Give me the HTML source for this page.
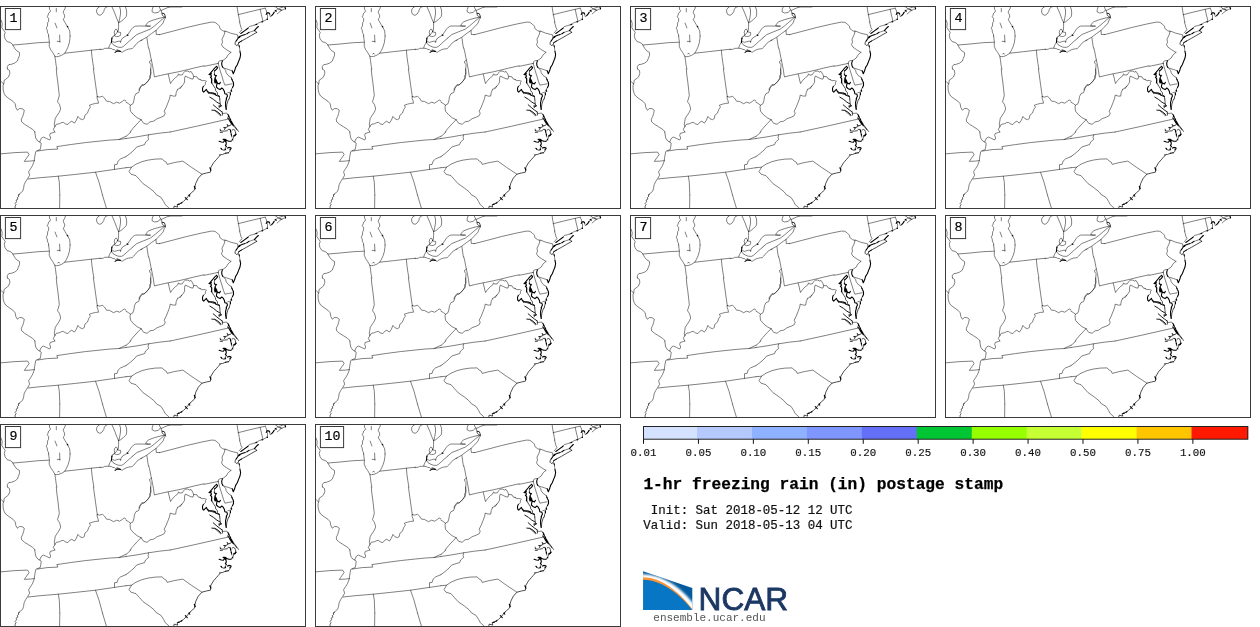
<!DOCTYPE html>
<html><head><meta charset="utf-8"><title>1-hr freezing rain postage stamp</title>
<style>
html,body{margin:0;padding:0;background:#fff;}
body{width:1260px;height:627px;overflow:hidden;font-family:"Liberation Mono",monospace;}
svg{display:block;}
text{font-family:"Liberation Mono",monospace;}
svg{opacity:0.999;}
</style></head><body>
<svg width="1260" height="627" viewBox="0 0 1260 627">
<defs>
<clipPath id="cp"><rect x="0.5" y="6.5" width="305" height="202"/></clipPath>
<g id="map" fill="none" stroke="#000" stroke-linejoin="round" stroke-linecap="round">
<path stroke-width="0.5" d="M0,18.9 1.2,20.1 2.2,23.6 1.8,27.6 3.5,30.1 5.2,32.3 4.3,35.3 5,38.7 7.2,41.7 10,42.4 11.9,43.7 12.9,45 14.6,48.2 16.6,50.7 19.4,52.4 19.6,55.2 18.4,58.2 17.3,61.1 14.6,63.1 11.3,64.3 8.8,64.6 7.2,66.8 7.5,69M12.9,45 25.1,44 38.2,42.7 49.2,42.2M48.6,35.9 49,39.2 49.4,42.2 49.2,46.2 50.7,49.7 52.8,52.7 54.8,56.2 56.3,56.7 58.8,56.4 61.8,55.2 64.8,53.2 66.5,50.2 68.1,46.7 69.3,42.7 69.9,38.7 70.1,35.9M49.3,6.5 49.6,9.3 50.5,10.8 50,12 48.6,13.2 48.1,15.1 47.2,16.8 48.6,18.4 48.6,21.3 47.7,22.7 47.4,26.1 46.2,28.2 47.2,29.9 47.4,32.3 48.6,34.7 48.6,36M65.6,6.5 64.9,8.9 63.7,10.8 63.2,12.2 63.9,13.9 64.6,15.1 64.6,17.5 63.4,18.9 63.4,19.9 64.9,22.3 66.1,24.4 67.5,26.6 68.7,29 69.7,30.9 69.9,33.8 70.1,36M56.3,8.5 56.3,11.8M55.1,23.1 56.9,27.9M59.6,35.1 59.9,42.2M57.3,41.4 59.9,41.4M57.9,54 58.6,53 59.3,54M54.8,56.2 55.5,60.3 56.1,65.3 56.9,69M64.8,53.2 78.4,51.7 91.4,50.2 100.5,49.2M91.4,50.2 91.9,56.2 92.9,63.3 93.9,69M100,6.5 98,7.7 96.7,9.7 96.6,12 97.7,14.4 100,15.4 102.1,14 103.7,11.7 104.4,9.3 105.7,7.3 108.1,6.5M111.8,6.5 113.4,10 115.1,14 116.8,18.7 118.5,22.4M119.5,6.5 120.5,10 120.5,14 119.8,18.1 118.8,22.4M125.2,6.5 126.5,10 126.7,14 126.2,16.7 123.5,19.4 120.8,21.7 118.8,22.4M122.8,38 123.5,37.5 127.5,35.1 129.5,32.1 131.5,29.1 133.5,27.1 135.6,26.1 139.6,26 144.9,26.1 148.3,26.4 150.6,26.1 145.6,25.6 146.9,23.4 148.9,21.7 154.3,19.7 159,18.4 163,17.4 165,17.1M132.7,38 136.9,34.5 143.6,31.8 150.3,29.1 154.3,26.1 158.3,22.7 163,18.7 165,17.1M140.9,40.5 146.9,37.1 151.6,33.5 156,30.4 159.7,26.8 163,23.1 164.4,19.4 165.4,17.7M159.1,6.5 160.1,8.9 161.3,10.8 161.5,12.2 162.2,13.4M165.1,17 165.6,18M153.3,6.5 152.3,9.3 152,11.7 154.6,13 158.3,12.4 160.3,10M161,10.6 165,8.7 169,7 170.4,6.5M156,30.4 156.3,34.5 159.7,34.5M118.6,22.5 118.6,26.7 118.4,30 117.6,31.7M117.6,31.7 117.1,29.7 115.9,29 114.7,30.4 114.2,32.7 115.1,34.7M117.6,31.7 116.4,33.4 115.1,34.7M117.6,31.7 118.7,32.2 120.6,32.4 120.7,34.1 120.4,35.4 118.4,36.4 116.4,36.6 114.4,35.7M111.4,42.4 112.7,41.7 114.7,42.4 116.7,41.7 118.8,41.2 120.4,41.3 120.6,42.5 121.1,40.3 122.1,38.7 122.8,38M111.4,42.4 113.1,44.7 115.1,45.9 118.1,47.2 121.4,47.4 123.4,46.4 126.1,44 129.1,41.2 132.2,38.7 132.7,38M111.4,42.4 110.4,43.9 109.4,45.7 108.7,48M100,49.6 103.3,49.2 104.4,48.4 108.7,48.2 111.4,48.6 112.7,49.4 114.4,49.6 115.7,50.7 117.4,49.6 118.8,50.4 120.4,51.4M120.4,51.4 122.1,52.4 123.4,51.4 126.1,49.9 128.5,49.1 130.1,48.9 132.2,48.6 133.8,47 135.5,45 136.8,43.4 138.9,41.7 140.9,40.5 142,40.2M7.5,69 9.5,70.5 9.8,73.5 8.5,77 6,79 4.2,80.3 3.8,83.6 3,85.6 3.2,90.1 4.2,93.6 5.5,95.9 9,98.6 13.1,101.4 15.1,103.7 15.9,107.7 17.3,110.2 19.6,108.5 22.1,108.7 24.3,110.2 23.6,113.7 22.6,116.7 21.3,119.2 21.6,121.8 24.6,124.3 28.6,126.8 32.2,129.1 34.7,131.3 35,132M0,80.3 2,82.6 3.8,84.1M56.3,69 56.8,75 57.8,82.1 58.6,89.1 59.3,95.6 58.3,99.1 57.5,101.7 59.3,104.2 60.3,107.2 60.6,109.2 59.3,112.2 57.3,115.2 55.3,118.2 54.8,121.2 54.3,124.3 54.8,126.8 53.3,129.3 54.8,132M54.8,126.8 56.3,124.3 59.3,123.8 61.3,122.8 63.3,122.3 65.3,123.8 67.8,124.6 69.8,122.3 71.8,121.2 74.4,123.1 76.4,120.2 77.9,116.4 79.9,118.7 82.4,119.7 84.2,118.7 84.9,115.2 87.4,113.2 88.9,109.2 90.4,107.2 89.4,105.2 92.4,104.2 95.5,103.4 98.5,103.2 98,100.7 97,98.1 97.3,96.6M93.4,69 94.4,76 95.5,84.1 96.5,91.1 97.3,96.6M97.3,96.6 99.5,97.1 102.5,96.3 104.5,98.1 106.5,101.2 109.5,101.4 113.5,103.7 116.6,102.2 119.6,103.2 122.6,101.2 124.1,99.9 126,101M34.7,132 35.2,135 35.7,138 37.7,141 39.7,142 41.2,143.1 40.7,147.1 40.2,149.6 37.2,150.6 35.7,151.6 34.7,157.1 34.2,161.1 32.7,165.2 30.6,168.7 28.6,171.7 29.6,175.2 27.6,178.7 25.6,181.7 24.1,184.8 23.6,188.3 22.6,191.3 19.6,193.8 18.6,195M39.7,142 41.2,138.5 43.2,137 46.7,138.5 49.7,140 50.7,138 49.7,135.5 50.2,133.5 53.3,132.5 54.8,132M37.2,151.1 47.2,149.6 57.8,149.1 56.8,146.6 60.3,146.1 70.3,144.6 85.4,142.6 100.5,141 110.5,140 119.1,139.5 126,138.5M119.1,139.5 126,136.2M0,153.9 15.1,152.6 27.6,152.1 29.1,154.6 26.6,158.1 24.3,161.4 30.1,161.1 34.4,160.6M28.1,179 40.2,177.7 58.3,176.2 75.4,174.4 95.5,172.2 114.5,169.4 126,167.7M58.3,176.2 59.3,182.2 59.8,195M95.5,172.2 99,182.2 102.5,195M114.5,169.4 114.5,164.7 117.1,164.4 118.1,161.1 120.6,158.9 126,156.6M59.8,195.1 59.6,208.4M102.5,195.1 106.5,208.4M159.7,34.6 171.2,31.6 186.3,27.6 201.4,24.1 211.4,22.1 214.9,22.3 217.4,24.1 219.4,26.1 219.9,28.6 222.5,30.6 225,31.6M225,31.6 224,35.1 222,39.2 222.5,42.2 221.5,44.7 223,47.2 226.5,49.7 231,52.4M237,6 237.7,11 238.5,15 239.3,19.6 239.9,22.1M146.9,37.7 148.1,46.2 148.5,48M238.1,14.7 248.8,12 260.2,9.3 265.5,8.1M260.2,9.3 261.2,14 262.2,18.1 262.9,21.4M239.4,22 240.3,24.9 241,27.7 242,29.4 240.8,31.1 239.1,32.8M225,30.9 230.7,33.2 237.7,34.9 237.8,37.8M248,28.2 249.4,26.5 252.8,25.6 256.1,24.4M245.1,34.5 247,33.7M248.9,32.4 250.8,31.8 254.4,30.6M239.4,46.9 239.7,49.3 239.9,51.2M265.3,8.5 266.5,11 267,13.9M267.5,14.8 267.5,19.1M267.5,19.1 262.2,21.8 259.3,22.5 256.4,24.4 255,25.1M269.6,13.9 270.3,16.7 271.7,15.6M274.1,12.4 275.8,10.8M275.8,10.8 277.5,9.1 280.4,7.9 283.7,6.9 285.4,6.7M285.6,8.9 283.7,9.3 281.3,10.5 278.9,12.4 277.2,13.9M276.1,6.6 277.2,8.4 278.9,9.6 280.8,9.8M230.9,52.4 228.2,54.7 226.2,58 222.9,60.4 220.2,60.7 218.5,61.7 218.2,63.7M204,66.3 206.8,65.8 218.2,63.4M218.2,63.7 218.9,66.1 220.2,70.8 221.9,76.1 223.5,81.5 224.9,85.2 228.2,84.5 232.2,83.8M222.9,67.4 224.2,68.8 225.6,70.4 226.2,72.8 228.2,75.5 231.2,77.5M223.9,68.1 228.2,69.4 232.2,70.8M148.8,48 149.8,52 150.8,57.4 151.5,60.7 152.5,65.4 153.5,70.8 154.2,76.1 154.8,76.8M151.5,60.1 149.5,61.4 149.8,63.1 151.1,64.7 150.8,68.1 150.5,71.4 150.5,74.5 149.5,76.1 150.1,78.1 148.1,80.8 145.8,83.5 143.8,85.2 142.1,84.5 140.8,86.2 139.4,88.2 139.1,90M154.8,76.8 160.2,75.5 168.2,73.8 178.3,71.8 187,69.8 193.7,68.1 204,65.8M168.2,74.1 169.2,78.1 169.9,81.5 170.6,83.2M170.6,83.2 172.9,80.2 175.6,77.5 177.6,76.1 178.6,73.8 179.6,75.1 182.3,74.8 183.6,72.8 185.3,71.1 187.7,71.1 189.7,72.1 191,71.4 192.7,74.1 193.7,76.5 197,76.8 198,78.8 200.4,79.8M193.7,76.5 193,79.1 191,78.8 188.3,77.5 185.3,76.1 184.6,78.1 184.6,82.2 183,84.8 180.3,87.5 177.9,89.5M200,79.3 202,80.7 204.4,80.5 206.5,81.3 205.4,82.4 205.4,84.4 204.4,85.7 203.3,86.4M227.8,92.7 230.3,92.1M222.5,113.5 226.9,113.1 227.9,114.5M180,88.7 182,86M126,138.5 136,137 148.6,134.8 159.2,133.2 170.2,132M126,136.5 131,132M148.6,134.8 148.1,137.5 148.6,139.5 145.6,142 144.6,144.6 141.1,145.6 136.6,147.1 134,150.1 130,153.6 126,156.6M126,167.7 131.5,167.2 136,164.2 142.1,161.6 148.1,160.1 155.1,159.1 162.2,158.9 164.2,161.1 166.2,162.1 167.2,164.4 174.2,162.6 182.8,161.1 191.3,167.2 201.9,174.2M131.5,167.2 129,171.7 131,174.2 136,175.7 139.1,179.2 143.1,183.7 149.1,187.8 154.1,191.8 156.6,195M157.1,195.1 161.2,197.6 163.7,201.6 165.2,204.6 168.7,207.6 169.2,208.4M150.6,69 151.1,73 150.1,78 148.1,81.1 145.1,84.1 142.1,85.6 140.1,88.1 138.6,92.6 136,93.6 134.5,96.6 134,100.1 133,103.7 130.5,105.2 130,106.7 130.5,111.2 133.5,114.7 137.1,117.7 141.1,119.7M126,102.2 128.5,103.7 130.5,105.2M141.1,119.7 137.1,123.8 133,128.3 130,132M141.1,119.7 143.6,123.3 147.1,124.3 150.1,121.8 153.6,121.2 157.1,118.7 161.2,117.2 164.2,115.7 165.2,113.2 164.2,111.2 166.2,107.2 168.2,102.2 169.7,98.1 170.2,95.1 173.2,96.1 175.7,96.1 176.2,92.6 177.7,89.1M170.2,132 196.3,126.3 227.6,119.2"/>
<path stroke-width="0.6" d="M162.1,13.4 162.1,15.1 163.9,16.6M19.6,194.1 18.1,195.1 19.1,196.1 17.3,197.6 17.9,199.1 16.1,200.1 16.6,201.6 15.1,203.6 16.1,204.6 15.1,206.1 15.1,208.4"/>
<path stroke-width="0.7" d="M114.7,35.1 113.4,36.1 112.4,37.1 111.8,38.8M236.2,40.9 235.3,42.1 235,44.2 236.2,45.4 237.9,45 238.9,42.6M254.4,30.6 256.3,31.6 256.6,32.5M241.3,41.1 246.5,38.3 251.8,35.2 256.6,32.5M279.9,9.6 281.8,10.3M231.2,77.5 231.9,79.5M214.7,70.7 214.4,72.4 214.4,74.7M211.7,80 211.6,81.3 212.4,84 214.1,86.7 215.4,88.7 215.7,90.7 217.4,92.7 217.4,94.7 219.4,96.4 219.8,99M208,91.7 211.1,93.4 215.1,94.7M232.5,87.4 231.5,89.4 231.3,91.4 230.5,92.7 230.3,94.7 229.6,96.8 229.3,99M219.7,99.1 220,101.4 220.2,104.1 221.5,106.1 219.5,106.8 219.2,107.8M228.7,99.1 228.2,100.1 226.9,104.1 226.2,109.4M214.8,110.4 218.2,113.5 220.2,115.5M222.2,112.5 222.5,115.1M220.2,155.3 218.2,157.5 216.2,159.8 213.8,162.5M232.9,124 234.8,126.4 236.8,129.1 238.5,131.4M233.4,125.7 235.1,127.4 236.8,129.7M220.2,129.2 220.4,130.7M220.4,130.7 222,131.1 224.7,131.1 227.4,130.7M220.2,132.4 222.4,132.4M228.1,129.4 230.1,129.4 230.6,130.7 230.8,132.7 231.4,135.1 231.8,137M232.1,130.1 233.4,129.4 234.8,130.1 235.4,131.7 235.8,134.1M236.5,134.3 234.8,135.5 233.5,137.3 232.6,139.5 231.1,141.2M220.7,148.4 222.1,149.6 224.4,150.4 225.4,149.1 225.8,147.4 226.3,146.4M230.1,149.7 229.8,151.4 228.4,152.8M225.4,153.3 222.7,154.4 219.4,154.9M213.4,163.1 210.9,167.2 210.4,172.2 206.4,173 201.9,174.2 198.3,178.2 195.8,183.2 194.8,187.3 194.3,190.3 191.3,192.8 189.3,195M190,194.1 188.8,195.6 186.3,198.6 183.3,201.6 180.3,203.6 177.2,204.6 177.7,207.1 174.2,206.1 173.7,208.4"/>
<path stroke-width="0.8" d="M162.2,13.2 164.2,13.6 165,15.3 165.2,17M231.1,124.8 228.7,126 227.2,124.4 228.1,126.4 226.1,127.4 223.6,127.6 225.4,128.5 224.2,129.6"/>
<path stroke-width="0.9" d="M209.8,97.1 213.5,99.4 216.8,102.1 220.2,104.1M213.2,104.8 216.2,107.4 219.5,110.1 222.5,112.1M211.8,110.1 214.8,110.4 217.5,111.8 220.2,114.1 220.9,115.5"/>
<path stroke-width="1.1" d="M67.2,26.3 67.8,26.9M127.2,34.9 127.9,35.5M111.9,38 111.7,40 111.4,42.4M115.1,52.4 117.4,50.9 120.4,51.4M168.7,6.8 181.8,6.8M240.8,33.5 244.1,31.1 248,28.2M239.4,36.4 237.4,39.2 236.2,40.9M239.4,37.3 240.8,35.9 242.7,35.2 245.1,34.5M247,33.7 248.9,32.4M254.4,30.6 256.1,28.7 258.3,26.5M238.9,42.6 241.3,41.1M238.9,45.2 239.4,46.9M266.2,14.4 267,12.9 268.9,12.7 269.6,13.9M267,19.1 267.5,19.5M261.9,21.6 262.6,21.9M256.2,24.3 256.8,24.6M271.7,15.6 273.2,13.9 274.1,12.4M275.2,10.4 276.3,11.2M284.9,6.8 285.6,8.9M274.1,6.5 276.1,6.6M222.5,60.7 221.7,63.1 221.9,65.4 222.9,67.4M232.2,70.8 233.3,73.8 234.6,70.8 235.6,67.4 237.3,64.7 238.6,61.4 240,58 240.6,54.7 240,51.3M216.7,66.4 215.7,67 214.4,68.4 213.1,70 211.7,71.7 210,73.7 209,74.4 211.1,75.1 211.4,76.4 210.4,77.4 211.7,78.7 211.7,80.8 211.4,83M209.4,74.1 211.4,73.6M216.4,66.4 217.6,67.7 216.4,69.4 214.7,70.7M214.4,74.7 215.7,75.7 216.4,75.4 215.1,77.7 214.7,79.4 215.7,81.1 216.7,83M215.1,78.4 216.1,80.1 217.4,83M214.4,80.8 215.1,83M211.4,78 211.7,80M215.1,78 215.7,80 215.7,82 217.4,83 219.4,84 220.4,82.4M215.4,78.7 216.7,81 216.1,82.7M217.4,83 216.7,84.7 216.4,87 217.8,88.4 220.1,89.6 221.8,88 223.4,89.4 224.4,91.4 224.8,93.7 226.8,94.1 227.5,96.1 226.5,98.1 226.1,99M203.3,86.4 202.5,88.4 202.7,91.1 203.7,92.1 205.4,90.4 206.4,89.4 207.4,91.4 208.7,93.1 211.1,92.7 213.4,93.1 215.4,93.7 215.7,95.1 217.4,95.8 219.4,96.4M231.8,79 232.5,80.7 233.5,82.7 233.5,85.4 232.5,87.4M231.1,90.1 231.7,91.1M230.3,93.4 230.5,94.7M226.6,98.7 225.6,102.1 225.6,106.1 226.2,109.4M218.9,106.1 221.2,105.8M227.9,114.5 229.2,116.8M228.4,116.3 229.4,117.7 230.3,119 230.9,120.7 231.9,122.4 232.9,124M227.7,118 228.9,119.3 229.8,121 230.8,122.7 232.1,124.4 233.4,125.7M230.3,130.1 230.8,132.1M235.8,134.1 234.8,135.4 233.4,136.1M231.4,134 231.4,135.3M234.5,135.3 235.3,135.6M232.3,139.4 232.8,139.9M219.1,141.2 221.4,142 223.4,142.2 224.7,140.4 223.1,139.4 225.4,139.4 226.8,140.4 228.8,141.2 231.1,141.2M224.7,140.4 226.1,142.4 226.3,144 225.4,145.4 226.3,146.4M223.7,139.7 226.1,141M221.1,148.4 221.7,149.2M224.9,149.2 225.6,149.7M227.4,148.1 228.8,147.4 230.8,147.7 231.1,148.7 230.1,149.7M228.4,152.8 225.4,153.3M209.9,167.7 210.9,170.2M194.3,186.3 195.3,188.8M185.3,197.6 187.3,199.6M188.8,195.1 189.8,196.1M180.8,203.3 181.9,202.7M178,204.5 179.3,204.1"/>
</g>
</defs>
<g transform="translate(0,0)"><g clip-path="url(#cp)"><use href="#map"/></g><rect x="0.5" y="6.5" width="305" height="202" fill="none" stroke="#3a3a3a" stroke-width="1"/><rect x="5.4" y="8.5" width="15.2" height="21.1" fill="none" stroke="#3a3a3a" stroke-width="1"/><text x="13.5" y="22" font-size="13.3" text-anchor="middle" fill="#000" stroke="#000" stroke-width="0.2">1</text></g>
<g transform="translate(315,0)"><g clip-path="url(#cp)"><use href="#map"/></g><rect x="0.5" y="6.5" width="305" height="202" fill="none" stroke="#3a3a3a" stroke-width="1"/><rect x="5.4" y="8.5" width="15.2" height="21.1" fill="none" stroke="#3a3a3a" stroke-width="1"/><text x="13.5" y="22" font-size="13.3" text-anchor="middle" fill="#000" stroke="#000" stroke-width="0.2">2</text></g>
<g transform="translate(630,0)"><g clip-path="url(#cp)"><use href="#map"/></g><rect x="0.5" y="6.5" width="305" height="202" fill="none" stroke="#3a3a3a" stroke-width="1"/><rect x="5.4" y="8.5" width="15.2" height="21.1" fill="none" stroke="#3a3a3a" stroke-width="1"/><text x="13.5" y="22" font-size="13.3" text-anchor="middle" fill="#000" stroke="#000" stroke-width="0.2">3</text></g>
<g transform="translate(945,0)"><g clip-path="url(#cp)"><use href="#map"/></g><rect x="0.5" y="6.5" width="305" height="202" fill="none" stroke="#3a3a3a" stroke-width="1"/><rect x="5.4" y="8.5" width="15.2" height="21.1" fill="none" stroke="#3a3a3a" stroke-width="1"/><text x="13.5" y="22" font-size="13.3" text-anchor="middle" fill="#000" stroke="#000" stroke-width="0.2">4</text></g>
<g transform="translate(0,209)"><g clip-path="url(#cp)"><use href="#map"/></g><rect x="0.5" y="6.5" width="305" height="202" fill="none" stroke="#3a3a3a" stroke-width="1"/><rect x="5.4" y="8.5" width="15.2" height="21.1" fill="none" stroke="#3a3a3a" stroke-width="1"/><text x="13.5" y="22" font-size="13.3" text-anchor="middle" fill="#000" stroke="#000" stroke-width="0.2">5</text></g>
<g transform="translate(315,209)"><g clip-path="url(#cp)"><use href="#map"/></g><rect x="0.5" y="6.5" width="305" height="202" fill="none" stroke="#3a3a3a" stroke-width="1"/><rect x="5.4" y="8.5" width="15.2" height="21.1" fill="none" stroke="#3a3a3a" stroke-width="1"/><text x="13.5" y="22" font-size="13.3" text-anchor="middle" fill="#000" stroke="#000" stroke-width="0.2">6</text></g>
<g transform="translate(630,209)"><g clip-path="url(#cp)"><use href="#map"/></g><rect x="0.5" y="6.5" width="305" height="202" fill="none" stroke="#3a3a3a" stroke-width="1"/><rect x="5.4" y="8.5" width="15.2" height="21.1" fill="none" stroke="#3a3a3a" stroke-width="1"/><text x="13.5" y="22" font-size="13.3" text-anchor="middle" fill="#000" stroke="#000" stroke-width="0.2">7</text></g>
<g transform="translate(945,209)"><g clip-path="url(#cp)"><use href="#map"/></g><rect x="0.5" y="6.5" width="305" height="202" fill="none" stroke="#3a3a3a" stroke-width="1"/><rect x="5.4" y="8.5" width="15.2" height="21.1" fill="none" stroke="#3a3a3a" stroke-width="1"/><text x="13.5" y="22" font-size="13.3" text-anchor="middle" fill="#000" stroke="#000" stroke-width="0.2">8</text></g>
<g transform="translate(0,418)"><g clip-path="url(#cp)"><use href="#map"/></g><rect x="0.5" y="6.5" width="305" height="202" fill="none" stroke="#3a3a3a" stroke-width="1"/><rect x="5.4" y="8.5" width="15.2" height="21.1" fill="none" stroke="#3a3a3a" stroke-width="1"/><text x="13.5" y="22" font-size="13.3" text-anchor="middle" fill="#000" stroke="#000" stroke-width="0.2">9</text></g>
<g transform="translate(315,418)"><g clip-path="url(#cp)"><use href="#map"/></g><rect x="0.5" y="6.5" width="305" height="202" fill="none" stroke="#3a3a3a" stroke-width="1"/><rect x="5.4" y="8.5" width="23.2" height="21.1" fill="none" stroke="#3a3a3a" stroke-width="1"/><text x="17.5" y="22" font-size="13.3" text-anchor="middle" fill="#000" stroke="#000" stroke-width="0.2">10</text></g>
<rect x="643.50" y="426.5" width="53.84" height="12.7" fill="#d5e2ff"/><rect x="697.04" y="426.5" width="55.24" height="12.7" fill="#b5c9ff"/><rect x="751.97" y="426.5" width="55.24" height="12.7" fill="#8eb2ff"/><rect x="806.91" y="426.5" width="55.24" height="12.7" fill="#7f96ff"/><rect x="861.85" y="426.5" width="55.24" height="12.7" fill="#6370f7"/><rect x="916.78" y="426.5" width="55.24" height="12.7" fill="#00c633"/><rect x="971.72" y="426.5" width="55.24" height="12.7" fill="#96ff00"/><rect x="1026.65" y="426.5" width="55.24" height="12.7" fill="#c6ff33"/><rect x="1081.59" y="426.5" width="55.24" height="12.7" fill="#ffff00"/><rect x="1136.53" y="426.5" width="55.24" height="12.7" fill="#ffc600"/><rect x="1191.46" y="426.5" width="56.64" height="12.7" fill="#ff1900"/><rect x="643.5" y="426.5" width="604.3" height="12.7" fill="none" stroke="#222" stroke-width="1"/><line x1="643.50" y1="439.2" x2="643.50" y2="443.8" stroke="#111" stroke-width="1"/><text x="643.50" y="455.7" font-size="10.8" text-anchor="middle" fill="#111" stroke="#111" stroke-width="0.15">0.01</text><line x1="698.44" y1="439.2" x2="698.44" y2="443.8" stroke="#111" stroke-width="1"/><text x="698.44" y="455.7" font-size="10.8" text-anchor="middle" fill="#111" stroke="#111" stroke-width="0.15">0.05</text><line x1="753.37" y1="439.2" x2="753.37" y2="443.8" stroke="#111" stroke-width="1"/><text x="753.37" y="455.7" font-size="10.8" text-anchor="middle" fill="#111" stroke="#111" stroke-width="0.15">0.10</text><line x1="808.31" y1="439.2" x2="808.31" y2="443.8" stroke="#111" stroke-width="1"/><text x="808.31" y="455.7" font-size="10.8" text-anchor="middle" fill="#111" stroke="#111" stroke-width="0.15">0.15</text><line x1="863.25" y1="439.2" x2="863.25" y2="443.8" stroke="#111" stroke-width="1"/><text x="863.25" y="455.7" font-size="10.8" text-anchor="middle" fill="#111" stroke="#111" stroke-width="0.15">0.20</text><line x1="918.18" y1="439.2" x2="918.18" y2="443.8" stroke="#111" stroke-width="1"/><text x="918.18" y="455.7" font-size="10.8" text-anchor="middle" fill="#111" stroke="#111" stroke-width="0.15">0.25</text><line x1="973.12" y1="439.2" x2="973.12" y2="443.8" stroke="#111" stroke-width="1"/><text x="973.12" y="455.7" font-size="10.8" text-anchor="middle" fill="#111" stroke="#111" stroke-width="0.15">0.30</text><line x1="1028.05" y1="439.2" x2="1028.05" y2="443.8" stroke="#111" stroke-width="1"/><text x="1028.05" y="455.7" font-size="10.8" text-anchor="middle" fill="#111" stroke="#111" stroke-width="0.15">0.40</text><line x1="1082.99" y1="439.2" x2="1082.99" y2="443.8" stroke="#111" stroke-width="1"/><text x="1082.99" y="455.7" font-size="10.8" text-anchor="middle" fill="#111" stroke="#111" stroke-width="0.15">0.50</text><line x1="1137.93" y1="439.2" x2="1137.93" y2="443.8" stroke="#111" stroke-width="1"/><text x="1137.93" y="455.7" font-size="10.8" text-anchor="middle" fill="#111" stroke="#111" stroke-width="0.15">0.75</text><line x1="1192.86" y1="439.2" x2="1192.86" y2="443.8" stroke="#111" stroke-width="1"/><text x="1192.86" y="455.7" font-size="10.8" text-anchor="middle" fill="#111" stroke="#111" stroke-width="0.15">1.00</text>
<text x="643.4" y="488.9" font-size="16.22" font-weight="bold" fill="#000" stroke="#000" stroke-width="0.25" xml:space="preserve">1-hr freezing rain (in) postage stamp</text>
<text x="643.3" y="513.7" font-size="12.46" fill="#111" stroke="#111" stroke-width="0.2" xml:space="preserve"> Init: Sat 2018-05-12 12 UTC</text>
<text x="643.3" y="528.6" font-size="12.46" fill="#111" stroke="#111" stroke-width="0.2" xml:space="preserve">Valid: Sun 2018-05-13 04 UTC</text>
<defs>
<clipPath id="lg"><path d="M643.1,571.3 L692.3,588 L692.3,610 L643.1,610Z"/></clipPath>
<filter id="bl" x="-20%" y="-20%" width="140%" height="140%"><feGaussianBlur stdDeviation="1.1"/></filter>
</defs>
<g clip-path="url(#lg)">
<rect x="640" y="568" width="56" height="45" fill="#035b9d"/>
<path d="M636,574.2 L643.1,574.2 C660,574.2 679,585.3 692.3,602.2 L700,612 L700,618 L636,618Z" fill="#fff" filter="url(#bl)"/>
<path d="M640,577.3 L643.1,577.3 C660,577.3 678,590.2 692.3,609 L692.3,612 L640,612Z" fill="#f7943c"/>
<path d="M640,579.75 L643.1,579.75 C660,579.75 678,592 692.3,610 L692.3,612 L640,612Z" fill="#0776c4"/>
</g>
<text x="698.6" y="610.2" font-size="30.8" style="font-family:'Liberation Sans',sans-serif" fill="#1b3764" stroke="#1b3764" stroke-width="0.8" textLength="89.6" lengthAdjust="spacingAndGlyphs">NCAR</text>
<text x="653.3" y="621.4" font-size="11" fill="#555">ensemble.ucar.edu</text>
</svg></body></html>
